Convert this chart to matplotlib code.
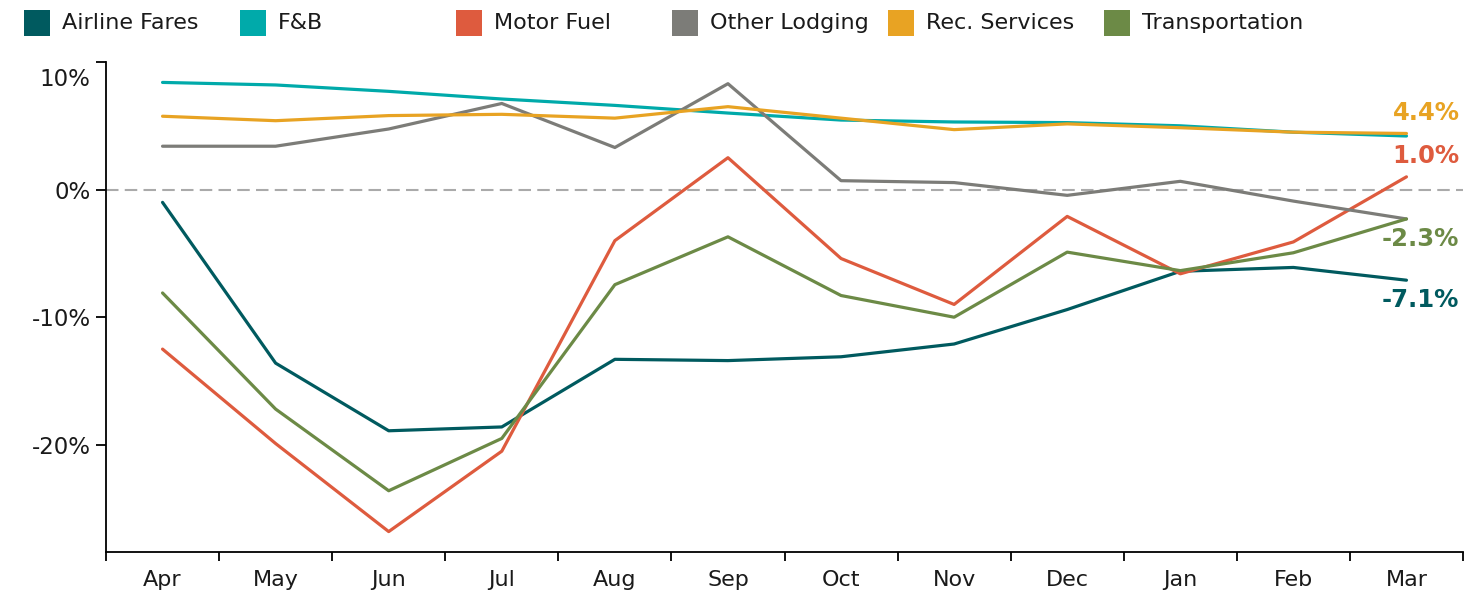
import matplotlib
matplotlib.use('Agg')
import matplotlib.pyplot as plt
from matplotlib.patches import Rectangle
from matplotlib.transforms import ScaledTranslation

months = ['Apr', 'May', 'Jun', 'Jul', 'Aug', 'Sep', 'Oct', 'Nov', 'Dec', 'Jan', 'Feb', 'Mar']
airline_fares = [-1.0, -13.6, -18.9, -18.6, -13.3, -13.4, -13.1, -12.1, -9.4, -6.4, -6.1, -7.1]
fnb = [8.4, 8.2, 7.7, 7.1, 6.6, 6.0, 5.45, 5.3, 5.25, 5.0, 4.5, 4.2]
motor_fuel = [-12.5, -19.9, -26.8, -20.5, -4.0, 2.5, -5.4, -9.0, -2.1, -6.6, -4.1, 1.0]
other_lodging = [3.4, 3.4, 4.75, 6.75, 3.3, 8.3, 0.7, 0.55, -0.45, 0.65, -0.9, -2.3]
rec_services = [5.75, 5.4, 5.8, 5.9, 5.6, 6.5, 5.6, 4.7, 5.15, 4.85, 4.5, 4.4]
transportation = [-8.1, -17.2, -23.6, -19.5, -7.45, -3.7, -8.3, -10.0, -4.9, -6.35, -4.95, -2.3]

series_names = ['Airline Fares', 'F&B', 'Motor Fuel', 'Other Lodging', 'Rec. Services', 'Transportation']
series_values = [airline_fares, fnb, motor_fuel, other_lodging, rec_services, transportation]
colors = ['#005A5F', '#00AAAA', '#DE5B3E', '#7C7C78', '#E8A323', '#6C8A46']
end_label = [True, False, True, False, True, True]
end_offset = [20, 0, -21, 0, -20, 20]  # pixels, positive = below

y_ticks = [-20, -10, 0, 10]
y_tick_labels = ['-20%', '-10%', '0%', '10%']

W, H = 1467, 592
fig = plt.figure(figsize=(W / 100, H / 100), dpi=100)
ax = fig.add_axes([106 / W, (H - 552) / H, (1463 - 106) / W, (552 - 62) / H])

x = list(range(len(months)))
ax.axhline(0, color='#AAAAAA', lw=1.5, dashes=(6, 3), zorder=1)
for name, vals, c in zip(series_names, series_values, colors):
    ax.plot(x, vals, color=c, lw=2.3, solid_capstyle='round', zorder=2)

for vals, c, show, off in zip(series_values, colors, end_label, end_offset):
    if not show:
        continue
    v = vals[-1]
    ax.annotate(f'{v:.1f}%', xy=(x[-1], v), xytext=(53, -off), textcoords='offset pixels',
                ha='right', va='center', fontsize=17.5, fontweight='bold', color=c, zorder=3)

ax.set_xlim(-0.5, len(months) - 0.5)
ax.set_ylim(-28.4, 10)

ax.set_xticks(x)
ax.set_xticklabels(months, fontsize=16, color='#1a1a1a')
ax.set_xticks([i - 0.5 for i in range(len(months) + 1)], minor=True)
ax.tick_params(axis='x', which='major', length=0, pad=13)
ax.tick_params(axis='x', which='minor', length=6.5, width=1.3, direction='out')

ax.set_yticks(y_ticks)
ax.set_yticklabels(y_tick_labels, fontsize=16.5, color='#1a1a1a')
ax.tick_params(axis='y', length=7, width=1.3, pad=4)
top_lbl = ax.get_yticklabels()[-1]
top_lbl.set_transform(top_lbl.get_transform() + ScaledTranslation(0, -0.15, fig.dpi_scale_trans))

for s in ['top', 'right']:
    ax.spines[s].set_visible(False)
for s in ['left', 'bottom']:
    ax.spines[s].set_linewidth(1.3)
    ax.spines[s].set_color('#000000')

# legend (manual, top row)
sq = 26
for i, (name, c) in enumerate(zip(series_names, colors)):
    x0 = 24 + 216 * i
    yc = 23
    fig.add_artist(Rectangle((x0 / W, (H - yc - sq / 2) / H), sq / W, sq / H,
                             transform=fig.transFigure, facecolor=c, edgecolor='none'))
    fig.text((x0 + 38) / W, (H - yc) / H, name, fontsize=16, color='#1a1a1a',
             ha='left', va='center')

fig.savefig('out.png', dpi=100)
